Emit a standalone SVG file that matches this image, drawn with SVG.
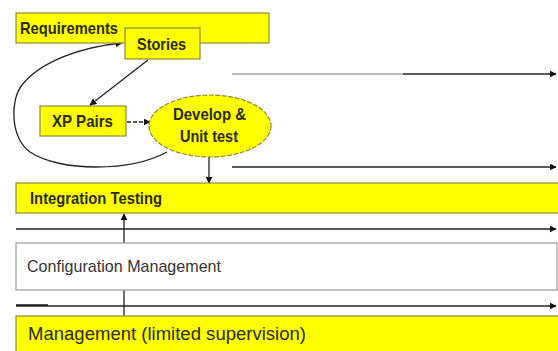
<svg xmlns="http://www.w3.org/2000/svg" width="558" height="351" viewBox="0 0 558 351">
<style>
.y{fill:#ffff00;stroke:#8a8a40;stroke-width:1.2}
.w{fill:#ffffff;stroke:#9a9a9a;stroke-width:1.2}
.t{font-family:"Liberation Sans",Arial,sans-serif;font-weight:bold;fill:#2a2a10;font-size:17px}
.n{font-family:"Liberation Sans",Arial,sans-serif;fill:#333;font-size:17px}
.c{fill:none;stroke:#222;stroke-width:1.3}
</style>
<defs>
<marker id="ah" viewBox="0 0 10 10" refX="9" refY="5" markerWidth="7" markerHeight="7" markerUnits="userSpaceOnUse" orient="auto">
<path d="M0,0 L10,5 L0,10 z" fill="#111"/>
</marker>
</defs>
<rect width="558" height="351" fill="#fff"/>
<g id="connectors">
<path class="c" d="M167,152 C130,172 60,172 30,152 C10,137 10,100 22,85 C40,62 80,47 122,43" marker-end="url(#ah)"/>
<path class="c" d="M148,60 L90,105" marker-end="url(#ah)"/>
<path class="c" d="M127,122 L150,122" stroke-dasharray="4,2" marker-end="url(#ah)"/>
<path class="c" d="M209,157 L209,183" marker-end="url(#ah)"/>
<path class="c" d="M124,316 L124,214" stroke="#555" marker-end="url(#ah)"/>
<path d="M232,74 L403,74" stroke="#777" stroke-width="1.2" fill="none"/>
<path class="c" d="M403,74 L556,74" stroke-width="1.8" marker-end="url(#ah)"/>
<path class="c" d="M232,167 L556,167" stroke-width="1.6" marker-end="url(#ah)"/>
<path class="c" d="M16,229 L556,229" stroke="#444" marker-end="url(#ah)"/>
<path class="c" d="M16,306 L556,306" stroke="#666" marker-end="url(#ah)"/>
<path d="M16,305 L48,305" stroke="#111" stroke-width="1.5" fill="none"/>
</g>
<g id="requirements">
<rect class="y" x="16" y="13" width="253" height="30"/>
<text class="t" x="20" y="34" textLength="98" lengthAdjust="spacingAndGlyphs">Requirements</text>
</g>
<g id="stories">
<rect class="y" x="125" y="28" width="75" height="31"/>
<text class="t" x="137" y="50" textLength="49" lengthAdjust="spacingAndGlyphs">Stories</text>
</g>
<g id="xp-pairs">
<rect class="y" x="40" y="106" width="86" height="30"/>
<text class="t" x="52" y="127" textLength="61" lengthAdjust="spacingAndGlyphs">XP Pairs</text>
</g>
<g id="develop">
<ellipse class="y" cx="210" cy="126" rx="61" ry="31" stroke="#555" stroke-dasharray="5,1.5"/>
<text class="t" x="173" y="120" textLength="73" lengthAdjust="spacingAndGlyphs">Develop &amp;</text>
<text class="t" x="180" y="142" textLength="58" lengthAdjust="spacingAndGlyphs">Unit test</text>
</g>
<g id="integration">
<rect class="y" x="16" y="183" width="545" height="30"/>
<text class="t" x="30" y="204" textLength="132" lengthAdjust="spacingAndGlyphs">Integration Testing</text>
</g>
<g id="config">
<rect class="w" x="16" y="243" width="541" height="47"/>
<text class="n" x="27" y="272" textLength="194" lengthAdjust="spacingAndGlyphs">Configuration Management</text>
</g>
<g id="management">
<rect class="y" x="16" y="316" width="545" height="40"/>
<text class="n" x="28" y="340" style="font-size:19px;fill:#2a2a10" textLength="278" lengthAdjust="spacingAndGlyphs">Management (limited supervision)</text>
</g>
</svg>
